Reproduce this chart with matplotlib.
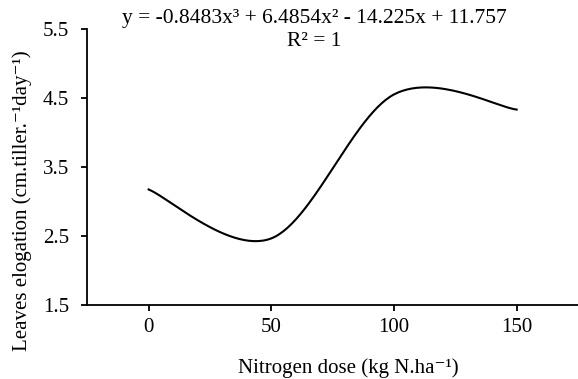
import numpy as np
import matplotlib
matplotlib.use("Agg")
import matplotlib.pyplot as plt

# data (Excel smoothed line through four doses)
doses = [0, 50, 100, 150]
elongation = [3.17, 2.46, 4.55, 4.33]

x_ticks = [0, 50, 100, 150]
y_ticks = [1.5, 2.5, 3.5, 4.5, 5.5]

equation = "y = -0.8483x\u00b3 + 6.4854x\u00b2 - 14.225x + 11.757"
r_squared = "R\u00b2 = 1"
x_label = "Nitrogen dose (kg N.ha\u207b\u00b9)"
y_label = "Leaves elogation (cm.tiller.\u207b\u00b9day\u207b\u00b9)"


def smooth_line(xs, ys, n=60):
    # Bezier smoothing similar to Excel's "smoothed line"
    pts = np.column_stack([xs, ys]).astype(float)
    out = []
    for i in range(len(pts) - 1):
        p0 = pts[max(i - 1, 0)]
        p1 = pts[i]
        p2 = pts[i + 1]
        p3 = pts[min(i + 2, len(pts) - 1)]
        c1 = p1 + (p2 - p0) / 6.0
        c2 = p2 - (p3 - p1) / 6.0
        t = np.linspace(0, 1, n)[:, None]
        seg = ((1 - t) ** 3) * p1 + 3 * ((1 - t) ** 2) * t * c1 + 3 * (1 - t) * t ** 2 * c2 + t ** 3 * p2
        out.append(seg)
    curve = np.vstack(out)
    return curve[:, 0], curve[:, 1]


def main():
    plt.rcParams["font.family"] = ["Liberation Serif", "DejaVu Serif"]

    fig = plt.figure(figsize=(5.78, 3.79), dpi=100)
    ax = fig.add_axes([87.3 / 578, 1 - 304.5 / 379, 1 - 87.3 / 578, (304.5 - 29) / 379])

    sx, sy = smooth_line(doses, elongation)
    ax.plot(sx, sy, color="black", linewidth=1.5)

    ax.set_xlim(-25, 175)
    ax.set_ylim(1.5, 5.5)
    ax.set_xticks(x_ticks)
    ax.set_yticks(y_ticks)
    ax.set_yticklabels([f"{v:.1f}" for v in y_ticks])

    for side in ["top", "right"]:
        ax.spines[side].set_visible(False)
    for side in ["left", "bottom"]:
        ax.spines[side].set_linewidth(1.3)

    ax.tick_params(axis="y", direction="out", length=4, width=1.3, pad=9, labelsize=15)
    ax.tick_params(axis="x", direction="out", length=4, width=1.3, pad=6, labelsize=15)

    fig.text(314 / 578, 1 - 19 / 379, equation, ha="center", va="center", fontsize=15.5)
    fig.text(314 / 578, 1 - 42 / 379, r_squared, ha="center", va="center", fontsize=15.5)

    fig.text(348 / 578, 1 - 373 / 379, x_label, ha="center", va="baseline", fontsize=15)
    fig.text(22 / 578, 1 - 201 / 379, y_label, ha="center", va="center", rotation=90, fontsize=15)

    fig.savefig("out.png", dpi=100)
    plt.close(fig)


if __name__ == "__main__":
    main()
